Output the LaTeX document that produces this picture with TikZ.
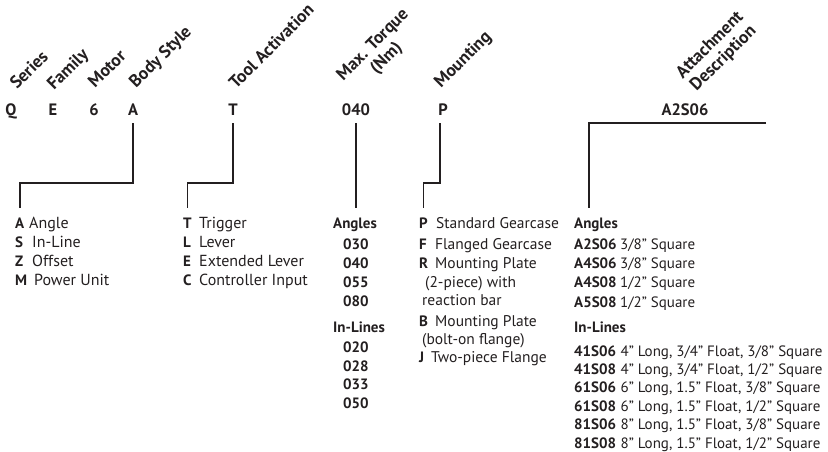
\documentclass[tikz,border=0pt]{standalone}
\usepackage{fontspec}
\setmainfont{PT Sans}
\usetikzlibrary{positioning}
\definecolor{ink}{HTML}{231F20}

\begin{document}
\begin{tikzpicture}[x=1pt,y=-1pt,
    conn/.style={draw=ink,line width=1.8pt},
    link/.style={conn,shorten <=7pt,shorten >=9pt},
    code/.style={text=ink,font=\fontsize{16.5}{18}\selectfont\bfseries,inner sep=0pt,anchor=base},
    head/.style={text=ink,font=\fontsize{17.5}{19}\selectfont\bfseries,rotate=45,inner sep=0pt},
    key/.style={text=ink,font=\fontsize{15}{19}\selectfont\bfseries,inner sep=0pt,anchor=base west},
    desc/.style={text=ink,font=\fontsize{15}{19}\selectfont,inner sep=0pt,anchor=base west},
    descw/.style={desc,font=\fontsize{16}{19}\selectfont},
    descm/.style={desc,font=\fontsize{15.5}{19}\selectfont}]

    \useasboundingbox (0,0) rectangle (828,452);

    % headings
    \node[head,anchor=base west] (hSeries) at (17,90) {Series};
    \node[head,anchor=base west] (hFamily) at (54,91) {Family};
    \node[head,anchor=base west] (hMotor) at (95,89) {Motor};
    \node[head,anchor=base west] (hBody) at (136,89) {Body Style};
    \node[head,anchor=base west] (hTool) at (236,90) {Tool Activation};
    \node[head,align=center] (hTorque) at (380,52) {Max. Torque\\(Nm)};
    \node[head,anchor=base west] (hMount) at (441,89) {Mounting};
    \node[head,align=center] (hAttach) at (717,52) {Attachment\\Description};

    % model code
    \node[code] (cQ) at (11,116) {Q};
    \node[code] (cE) at (53,116) {E};
    \node[code] (c6) at (94,116) {6};
    \node[code] (cA) at (133,116) {A};
    \node[code] (cT) at (233,116) {T};
    \node[code] (cTq) at (356,116) {040};
    \node[code] (cP) at (443,116) {P};
    \node[code] (cAtt) at (685,116) {A2S06};

    % body style
    \foreach \k/\t/\x [count=\i] in {A/Angle/29,S/In-Line/32,Z/Offset/32,M/Power Unit/34}{
        \node[key] (bs\i) at (15,{209+19*\i}) {\k};
        \node[descw] at (\x,{209+19*\i}) {\t};
    }

    % tool activation
    \foreach \k/\t [count=\i] in {T/Trigger,L/Lever,E/Extended Lever,C/Controller Input}{
        \node[key] (ta\i) at (183,{209+19*\i}) {\k};
        \node[descw] at (199,{209+19*\i}) {\t};
    }

    % max. torque
    \node[key] (tqAng) at (333,228) {Angles};
    \foreach \v [count=\i] in {030,040,055,080}
        \node[key] (tqa\i) at (343,{230+19*\i}) {\v};
    \node[key] (tqIn) at (333,332) {In-Lines};
    \foreach \v [count=\i] in {020,028,033,050}
        \node[key] (tqi\i) at (343,{334+18.5*\i}) {\v};

    % mounting
    \foreach \k/\t/\y/\x [count=\i] in {P/Standard Gearcase/228/436,F/Flanged Gearcase/249/435,
            R/Mounting Plate/268/435,B/Mounting Plate/326/435,J/Two-piece Flange/362/431}{
        \node[key] (mt\i) at (419,\y) {\k};
        \node[descm] at (\x,\y) {\t};
    }
    \node[descm] (mtR2) at (425,287) {(2-piece) with};
    \node[descm] (mtR3) at (422,305) {reaction bar};
    \node[descm] (mtB2) at (422,344) {(bolt-on flange)};

    % attachment
    \node[key] (atAng) at (574,228) {Angles};
    \foreach \k/\t [count=\i] in {A2S06/{3/8" Square},A4S06/{3/8" Square},
            A4S08/{1/2" Square},A5S08/{1/2" Square}}{
        \node[key] (ata\i) at (574,{230+19.3*\i}) {\k};
        \node[desc] at ([xshift=3pt]ata\i.base east) {\t};
    }
    \node[key] (atIn) at (574,332) {In-Lines};
    \foreach \k/\t [count=\i] in {41S06/{4" Long, 3/4" Float, 3/8" Square},
            41S08/{4" Long, 3/4" Float, 1/2" Square},
            61S06/{6" Long, 1.5" Float, 3/8" Square},
            61S08/{6" Long, 1.5" Float, 1/2" Square},
            81S06/{8" Long, 1.5" Float, 3/8" Square},
            81S08/{8" Long, 1.5" Float, 1/2" Square}}{
        \node[key] (ati\i) at (574,{337.6+18.4*\i}) {\k};
        \node[desc] at ([xshift=4pt]ati\i.base east) {\t};
    }

    % connectors
    \coordinate (bend) at (0,183);
    \coordinate (attEnd) at (766,123);
    \draw[link] (cA.south) -- (cA.south |- bend) -| (bs1.north);
    \draw[link] (cT.south) -- (cT.south |- bend) -| (ta1.north);
    \draw[link] (cTq.south) -- (cTq.south |- tqAng.north);
    \draw[link] ([xshift=-3pt]cP.south) -- ([xshift=-3pt]cP.south |- bend) -| (mt1.north);
    \draw[conn,shorten >=9pt] (attEnd) -| ([xshift=15pt]atAng.north west);

\end{tikzpicture}
\end{document}
